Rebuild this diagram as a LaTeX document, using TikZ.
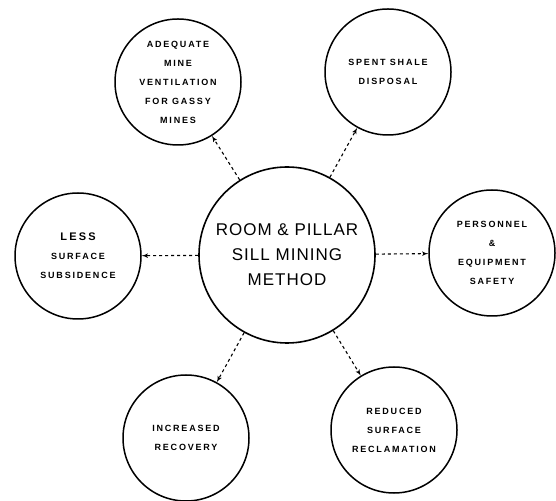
\documentclass[tikz,border=0pt]{standalone}
\usepackage{fontspec}
\newfontfamily\stencil[LetterSpace=20]{Liberation Sans}
\newfontfamily\stenciltight[LetterSpace=6]{Liberation Sans}
\usetikzlibrary{arrows}
\usetikzlibrary{positioning}
\tikzset{
     hub/.style={
           circle,
           draw=black, line width=1.6pt,
           minimum size=176pt,
           inner sep=0pt,
           align=center,
           font=\stenciltight\fontsize{17}{25}\selectfont,
           },
     goal/.style={
           circle,
           draw=black, line width=1.5pt,
           minimum size=126pt,
           inner sep=0pt,
           align=center,
           font=\stencil\bfseries\fontsize{9}{19}\selectfont,
           },
     link/.style={
           -latex',
           line width=1.1pt,
           dash pattern=on 3pt off 3pt,
           },
}

\begin{document}
\begin{tikzpicture}[x=1pt, y=1pt]
	\useasboundingbox (0,0) rectangle (556,500);

	\node[hub] (method) at (287,245) {ROOM \& PILLAR\\ SILL MINING\\ METHOD};

	\node[goal] (ventilation) at (178,418) {ADEQUATE\\ MINE\\ VENTILATION\\ FOR GASSY\\ MINES};
	\node[goal] (disposal) at (388,428) {SPENT SHALE\\ DISPOSAL};
	\node[goal] (subsidence) at (78,244) {{\fontsize{11}{19}\selectfont LESS}\\ SURFACE\\ SUBSIDENCE};
	\node[goal] (safety) at (492,247) {PERSONNEL\\ \&\\ EQUIPMENT\\ SAFETY};
	\node[goal] (recovery) at (186,62) {INCREASED\\ RECOVERY};
	\node[goal] (reclamation) at (394,70) {REDUCED\\ SURFACE\\ RECLAMATION};

	\path[link]	(method) edge (ventilation)
			(method) edge (disposal)
			(method) edge (subsidence)
			(method) edge (safety)
			(method) edge (recovery)
			(method) edge (reclamation);

\end{tikzpicture}
\end{document}
